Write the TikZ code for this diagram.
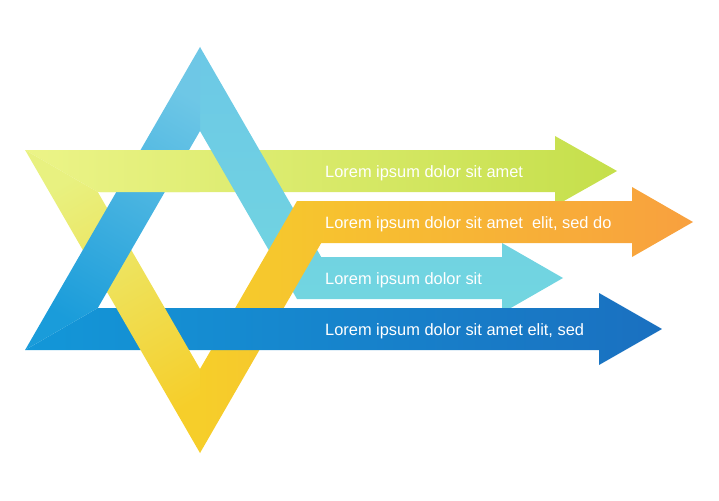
\documentclass[tikz,border=0pt]{standalone}
\usepackage{fontspec}
\setmainfont{Liberation Sans}
\usepackage{tikz}

\definecolor{gLeft}{HTML}{ECF488}
\definecolor{gMid}{HTML}{CAE251}
\definecolor{gRight}{HTML}{C5DF4B}
\definecolor{legTop}{HTML}{E8F180}
\definecolor{legMid}{HTML}{EEF38C}
\definecolor{legBot}{HTML}{F6CE2A}
\definecolor{oLeft}{HTML}{F6CE2A}
\definecolor{oMid}{HTML}{F8A43D}
\definecolor{oRight}{HTML}{F8A03F}
\definecolor{bLight}{HTML}{6EC7E6}
\definecolor{bMid}{HTML}{1A9CDA}
\definecolor{bBase}{HTML}{1397D8}
\definecolor{bDark}{HTML}{1A70C0}
\definecolor{cTop}{HTML}{6CC8E6}
\definecolor{cBot}{HTML}{72D6E0}

\begin{document}
\begin{tikzpicture}[x=1pt, y=-1pt,
		band/.style={shading=axis},
		arrowtext/.style={text=white, font=\fontsize{16.4}{20}\selectfont, anchor=base west, inner sep=0pt}
	]
	\useasboundingbox (0,0) rectangle (719,500);

	% corners of the two triangles
	\coordinate (ua)  at (200,47);
	\coordinate (ui)  at (200,131);
	\coordinate (ul)  at (25.1,350);
	\coordinate (uli) at (97.8,308);
	\coordinate (da)  at (200,453);
	\coordinate (di)  at (200,369);
	\coordinate (dl)  at (25.1,150);
	\coordinate (dli) at (97.8,192);

	% top band, green arrow
	\def\greenband{(dl) -- (555,150) -- (555,136) -- (617,171) -- (555,206) -- (555,192) -- (dli) -- cycle}
	\shade[band, left color=gLeft, middle color=gMid, right color=gRight] \greenband;

	% right leg of the upper triangle, cyan arrow
	\shade[band, top color=cTop, bottom color=cBot]
		(ua) -- (321.2,257) -- (502,257) -- (502,243) -- (563,278) -- (502,313) -- (502,299) -- (297.0,299) -- (ui) -- cycle;

	% right leg of the lower triangle, orange arrow
	\shade[band, left color=oLeft, middle color=oMid, right color=oRight]
		(da) -- (321.2,243) -- (632,243) -- (632,257) -- (693,222) -- (632,187) -- (632,201) -- (297.0,201) -- (di) -- cycle;

	% base band, blue arrow
	\shade[band, left color=bBase, right color=bDark]
		(ul) -- (uli) -- (599,308) -- (599,293) -- (662,329) -- (599,365) -- (599,350) -- cycle;

	% left leg of the lower triangle
	\shade[band, top color=legTop, middle color=legMid, bottom color=legBot, shading angle=30]
		(dl) -- (da) -- (di) -- (dli) -- cycle;

	% left leg of the upper triangle
	\shade[band, top color=bLight, bottom color=bMid, shading angle=-30]
		(ua) -- (ui) -- (uli) -- (ul) -- cycle;

	% green band passes over the left leg
	\begin{scope}
		\clip (100,140) rectangle (199.5,200);
		\shade[band, left color=gLeft, middle color=gMid, right color=gRight] \greenband;
	\end{scope}

	\node[arrowtext] (t1) at (325,177) {Lorem ipsum dolor sit amet};
	\node[arrowtext] (t2) at (325,228) {Lorem ipsum dolor sit amet\ \ elit, sed do};
	\node[arrowtext] (t3) at (325,284) {Lorem ipsum dolor sit};
	\node[arrowtext] (t4) at (325,335) {Lorem ipsum dolor sit amet elit, sed};
\end{tikzpicture}
\end{document}
